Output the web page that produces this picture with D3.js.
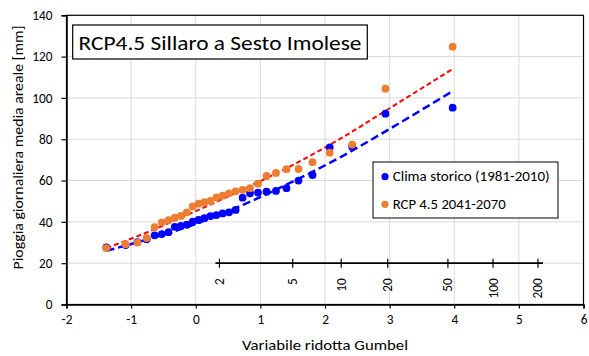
<!DOCTYPE html>
<html>
<head>
<meta charset="utf-8">
<script src="https://cdn.jsdelivr.net/npm/d3@7"></script>
<style>
	body { margin: 0; background: #fff; }
	svg { display: block; }
	text { font-family: Carlito, Calibri, Lato, sans-serif; fill: #000; }
</style>
</head>
<body>
<svg id="chart" width="589" height="356"></svg>
<script>

// reduced Gumbel variable of each ranked year (30 years)
var gumbelX = [-1.383, -1.085, -0.902, -0.759, -0.636, -0.525, -0.421, -0.324, -0.230, -0.138,
	-0.047, 0.043, 0.134, 0.226, 0.319, 0.415, 0.514, 0.617, 0.725, 0.840,
	0.963, 1.096, 1.241, 1.404, 1.590, 1.807, 2.073, 2.421, 2.935, 3.975];

var storico = [27.6, 28.8, 30.2, 31.6, 33.5, 34.1, 35.0, 37.6, 38.1, 38.6,
	40.1, 40.9, 41.8, 42.8, 43.3, 44.1, 44.6, 45.8, 51.7, 53.8,
	54.2, 54.6, 55.0, 56.3, 60.0, 62.7, 76.0, 76.4, 92.4, 95.3];

var rcp45 = [27.3, 29.2, 30.0, 32.2, 37.4, 39.8, 40.8, 42.0, 42.9, 44.6,
	47.5, 48.8, 49.5, 50.1, 51.8, 52.7, 53.8, 54.8, 55.5, 56.3,
	58.5, 62.2, 63.7, 65.5, 65.6, 68.9, 73.5, 77.4, 104.5, 124.8];

// fitted curves, read at a few points
var fitX = [-1.38, -0.75, 0, 0.75, 1.5, 2.25, 3.0, 3.975];
var fitStorico = [26.0, 31.5, 39.0, 48.5, 59.5, 71.5, 85.0, 103.3];
var fitRcp = [27.3, 35.0, 45.2, 56.0, 67.5, 80.5, 95.0, 114.0];

var xTicks = [-2, -1, 0, 1, 2, 3, 4, 5, 6];
var yTicks = [0, 20, 40, 60, 80, 100, 120, 140];
var returnPeriods = [2, 5, 10, 20, 50, 100, 200];

var TITLE = "RCP4.5 Sillaro a Sesto Imolese";
var X_TITLE = "Variabile ridotta Gumbel";
var Y_TITLE = "Pioggia giornaliera media areale [mm]";
var LABEL_STORICO = "Clima storico (1981-2010)";
var LABEL_RCP = "RCP 4.5 2041-2070";

var BLUE = "#0000ff";
var ORANGE = "#ed7d31";
var RED = "#ff0000";
var GRID = "#d9d9d9";

var svg = d3.select("#chart");

var x = d3.scaleLinear().domain([-2, 6]).range([66.5, 583.5]);
var y = d3.scaleLinear().domain([0, 140]).range([304.5, 15.3]);

// grid
svg.append("g").selectAll("line").data(xTicks.slice(1, -1)).enter().append("line")
	.attr("x1", function(d) { return x(d); })
	.attr("x2", function(d) { return x(d); })
	.attr("y1", y(0)).attr("y2", y(140))
	.attr("stroke", GRID).attr("stroke-width", 1);

svg.append("g").selectAll("line").data(yTicks.slice(1, -1)).enter().append("line")
	.attr("x1", x(-2)).attr("x2", x(6))
	.attr("y1", function(d) { return y(d); })
	.attr("y2", function(d) { return y(d); })
	.attr("stroke", GRID).attr("stroke-width", 1);

// frame of the plot area
svg.append("rect")
	.attr("x", x(-2)).attr("y", y(140))
	.attr("width", x(6) - x(-2)).attr("height", y(0) - y(140))
	.attr("fill", "none").attr("stroke", "#000").attr("stroke-width", 1.2);

// axes
var xAxis = d3.axisBottom(x).tickValues(xTicks).tickSize(4).tickPadding(6)
	.tickFormat(d3.format("d"));
var gx = svg.append("g").attr("transform", "translate(0," + y(0) + ")").call(xAxis);

var yAxis = d3.axisLeft(y).tickValues(yTicks).tickSize(5).tickPadding(9);
var gy = svg.append("g").attr("transform", "translate(" + x(-2) + ",0)").call(yAxis);

[gx, gy].forEach(function(g) {
	g.select(".domain").attr("stroke", "#000").attr("stroke-width", 1.5);
	g.selectAll(".tick line").attr("stroke", "#000").attr("stroke-width", 1.2);
	g.selectAll(".tick text").attr("font-size", 13.3)
		.attr("font-family", "Carlito, Calibri, Lato, sans-serif").attr("fill", "#000");
});
gx.selectAll(".tick text").text(function(d) { return d < 0 ? "-" + Math.abs(d) : d; });

// return period axis, drawn at 20 mm
function gumbelOf(T) { return -Math.log(-Math.log(1 - 1 / T)); }

var rpY = y(20);
var rpFirst = x(gumbelOf(returnPeriods[0]));
var rpLast = x(gumbelOf(returnPeriods[returnPeriods.length - 1]));
var rp = svg.append("g");
rp.append("line")
	.attr("x1", rpFirst - 4).attr("x2", rpLast + 5)
	.attr("y1", rpY).attr("y2", rpY)
	.attr("stroke", "#000").attr("stroke-width", 1.8);
rp.selectAll("line.tk").data(returnPeriods).enter().append("line")
	.attr("class", "tk")
	.attr("x1", function(T) { return x(gumbelOf(T)); })
	.attr("x2", function(T) { return x(gumbelOf(T)); })
	.attr("y1", rpY - 4.5).attr("y2", rpY + 4.5)
	.attr("stroke", "#000").attr("stroke-width", 1.2);
rp.selectAll("text").data(returnPeriods).enter().append("text")
	.attr("transform", function(T) {
		return "translate(" + (x(gumbelOf(T)) + 4.5) + "," + (rpY + 15) + ") rotate(-90)";
	})
	.attr("text-anchor", "end")
	.attr("font-size", 13.3)
	.text(function(T) { return T; });

// fitted curves
var curve = d3.line()
	.x(function(d) { return x(d[0]); })
	.y(function(d) { return y(d[1]); })
	.curve(d3.curveMonotoneX);

svg.append("path")
	.attr("d", curve(d3.zip(fitX, fitStorico)))
	.attr("fill", "none").attr("stroke", BLUE)
	.attr("stroke-width", 2.5).attr("stroke-dasharray", "8,4");

svg.append("path")
	.attr("d", curve(d3.zip(fitX, fitRcp)))
	.attr("fill", "none").attr("stroke", RED)
	.attr("stroke-width", 2).attr("stroke-dasharray", "5,3");

// observed points
function drawPoints(values, color) {
	svg.append("g").selectAll("circle").data(d3.zip(gumbelX, values)).enter().append("circle")
		.attr("cx", function(d) { return x(d[0]); })
		.attr("cy", function(d) { return y(d[1]); })
		.attr("r", 3.9)
		.attr("fill", color);
}
drawPoints(storico, BLUE);
drawPoints(rcp45, ORANGE);

// title box
svg.append("rect")
	.attr("x", 72.7).attr("y", 25).attr("width", 294.6).attr("height", 34)
	.attr("fill", "#fff").attr("stroke", "#000").attr("stroke-width", 1.2);
svg.append("text")
	.attr("x", 78.5).attr("y", 49.5)
	.attr("font-size", 21)
	.attr("textLength", 283).attr("lengthAdjust", "spacingAndGlyphs")
	.text(TITLE);

// legend
var legend = svg.append("g");
legend.append("rect")
	.attr("x", 373).attr("y", 162).attr("width", 185).attr("height", 56)
	.attr("fill", "#fff").attr("stroke", "#000").attr("stroke-width", 1);
[[LABEL_STORICO, BLUE, 176.7, 157], [LABEL_RCP, ORANGE, 204.3, 113]].forEach(function(item) {
	legend.append("circle").attr("cx", 385).attr("cy", item[2]).attr("r", 3.6).attr("fill", item[1]);
	legend.append("text")
		.attr("x", 392.7).attr("y", item[2] + 4.6)
		.attr("font-size", 13.3)
		.attr("textLength", item[3]).attr("lengthAdjust", "spacingAndGlyphs")
		.text(item[0]);
});

// axis titles
svg.append("text")
	.attr("x", 325).attr("y", 349.5)
	.attr("text-anchor", "middle")
	.attr("font-size", 13.3)
	.attr("textLength", 166).attr("lengthAdjust", "spacingAndGlyphs")
	.text(X_TITLE);

svg.append("text")
	.attr("transform", "translate(22.5,147.5) rotate(-90)")
	.attr("text-anchor", "middle")
	.attr("font-size", 13.3)
	.attr("textLength", 244).attr("lengthAdjust", "spacingAndGlyphs")
	.text(Y_TITLE);

</script>
</body>
</html>
